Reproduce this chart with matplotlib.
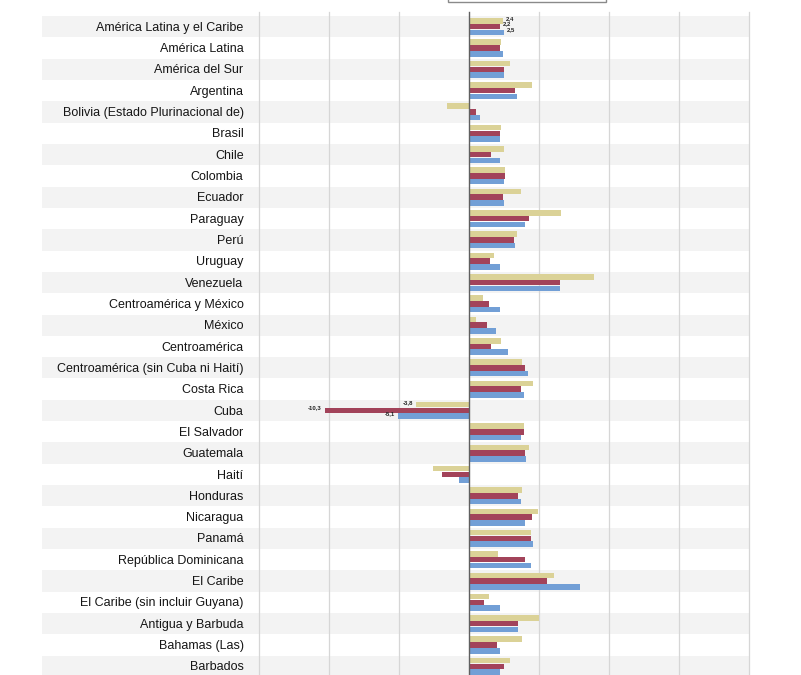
import matplotlib
matplotlib.use("Agg")
import matplotlib.pyplot as plt
from matplotlib.patches import Rectangle
import numpy as np

plt.rcParams['font.family'] = ['Liberation Sans', 'DejaVu Sans']

categories = [
    "América Latina y el Caribe", "América Latina", "América del Sur", "Argentina",
    "Bolivia (Estado Plurinacional de)", "Brasil", "Chile", "Colombia", "Ecuador",
    "Paraguay", "Perú", "Uruguay", "Venezuela", "Centroamérica y México", "México",
    "Centroamérica", "Centroamérica (sin Cuba ni Haití)", "Costa Rica", "Cuba",
    "El Salvador", "Guatemala", "Haití", "Honduras", "Nicaragua", "Panamá",
    "República Dominicana", "El Caribe", "El Caribe (sin incluir Guyana)",
    "Antigua y Barbuda", "Bahamas (Las)", "Barbados",
]
serie_a = [2.4, 2.3, 2.9, 4.5, -1.6, 2.3, 2.5, 2.6, 3.7, 6.6, 3.4, 1.8, 8.9, 1.0, 0.5,
           2.3, 3.8, 4.6, -3.8, 3.9, 4.3, -2.6, 3.8, 4.9, 4.4, 2.1, 6.1, 1.4, 5.0, 3.8, 2.9]
serie_b = [2.2, 2.2, 2.5, 3.3, 0.5, 2.2, 1.6, 2.6, 2.4, 4.3, 3.2, 1.5, 6.5, 1.4, 1.3,
           1.6, 4.0, 3.7, -10.3, 3.9, 4.0, -1.9, 3.5, 4.5, 4.4, 4.0, 5.6, 1.1, 3.5, 2.0, 2.5]
serie_c = [2.5, 2.4, 2.5, 3.4, 0.8, 2.2, 2.2, 2.5, 2.5, 4.0, 3.3, 2.2, 6.5, 2.2, 1.9,
           2.8, 4.2, 3.9, -5.1, 3.7, 4.1, -0.7, 3.7, 4.0, 4.6, 4.4, 7.9, 2.2, 3.5, 2.2, 2.2]
labeled_rows = [0, 18]
gridlines = [-15, -10, -5, 5, 10, 15, 20]

colors = ["#dbd297", "#a2435a", "#729fd6"]

W, H = 801, 675
fig = plt.figure(figsize=(W / 100, H / 100), dpi=100)
left_px, right_px = 42, 749
top_px, bottom_px = 16, 677
ax = fig.add_axes([left_px / W, 1 - bottom_px / H, (right_px - left_px) / W, (bottom_px - top_px) / H])
ax.set_xlim(-30.5, 20)
n = len(categories)
ax.set_ylim(n - 0.5, -0.5)
ax.axis('off')

# shading
for i in range(n):
    if i % 2 == 0:
        ax.axhspan(i - 0.5, i + 0.5, color="#f3f3f3", lw=0, zorder=0)

for g in gridlines:
    ax.plot([g, g], [n - 0.5, -0.7], color="#d6d6d6", lw=0.9, zorder=1, clip_on=False)
ax.plot([0, 0], [n - 0.5, -0.7], color="#606060", lw=1.0, zorder=4, clip_on=False)

y = np.arange(n)
h = 0.26
series = [serie_a, serie_b, serie_c]
offsets = [-0.27, 0.0, 0.27]
for s, off, c in zip(series, offsets, colors):
    ax.barh(y + off, s, height=h, color=c, zorder=3, lw=0)

for i, cat in enumerate(categories):
    ax.text(-16.1, i + 0.05, cat, ha='right', va='center', fontsize=9.0, color="#151515")

for r in labeled_rows:
    for s, off in zip(series, offsets):
        v = s[r]
        txt = f"{v:.1f}".replace('.', ',')
        if v >= 0:
            ax.text(v + 0.2, r + off - 0.12, txt, ha='left', va='center', fontsize=4.3,
                    fontweight='bold', color="#222222", zorder=5)
        else:
            ax.text(v - 0.2, r + off - 0.12, txt, ha='right', va='center', fontsize=4.3,
                    fontweight='bold', color="#222222", zorder=5)

# legend box (mostly cut off at top)
fig.add_artist(Rectangle((447.5 / W, 1 - 2 / H), (606 - 447.5) / W, 30 / H,
                         transform=fig.transFigure, facecolor='white',
                         edgecolor='#8a8a8a', lw=1.0, clip_on=False))

fig.savefig("out.png", dpi=100)
